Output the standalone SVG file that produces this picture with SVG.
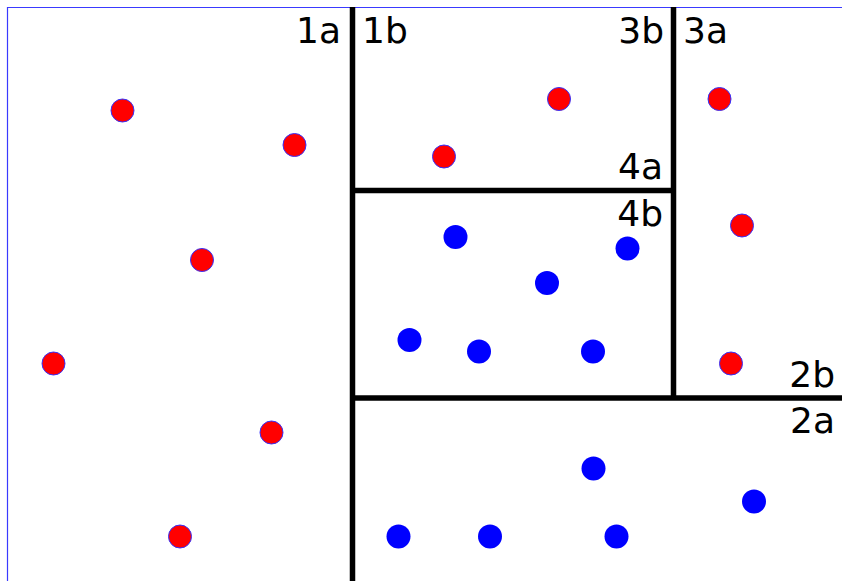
<svg xmlns="http://www.w3.org/2000/svg" width="842" height="581" viewBox="0 0 842 581">
<style>
.lbl{font-family:"DejaVu Sans",sans-serif;font-size:36px;fill:#000}
.r{fill:#ff0000;stroke:#3333ff;stroke-width:1}
.b{fill:#0000ff;stroke:none}
.wall{stroke:#000;stroke-width:5.5;fill:none}
</style>
<rect x="0" y="0" width="842" height="581" fill="#fff"/>
<g id="frame"><path d="M7.5,581 V7.5 H842" fill="none" stroke="#3a3aff" stroke-width="1.2"/></g>
<g id="connectors">
<line class="wall" x1="352.5" y1="7" x2="352.5" y2="581"/>
<line class="wall" x1="352" y1="190.5" x2="673" y2="190.5"/>
<line class="wall" x1="673.5" y1="7" x2="673.5" y2="398"/>
<line class="wall" x1="352" y1="398" x2="842" y2="398"/>
</g>
<g id="labels">
<text class="lbl" x="341" y="43" text-anchor="end">1a</text>
<text class="lbl" x="362" y="43">1b</text>
<text class="lbl" x="664" y="43" text-anchor="end">3b</text>
<text class="lbl" x="683" y="43">3a</text>
<text class="lbl" x="663" y="179" text-anchor="end">4a</text>
<text class="lbl" x="663" y="226" text-anchor="end">4b</text>
<text class="lbl" x="835" y="387" text-anchor="end">2b</text>
<text class="lbl" x="835" y="433" text-anchor="end">2a</text>
</g>
<g id="red">
<circle class="r" cx="122.5" cy="110.5" r="11.5"/>
<circle class="r" cx="294.5" cy="145" r="11.5"/>
<circle class="r" cx="202" cy="260" r="11.5"/>
<circle class="r" cx="53.5" cy="363.5" r="11.5"/>
<circle class="r" cx="271.5" cy="432.5" r="11.5"/>
<circle class="r" cx="180" cy="536.5" r="11.5"/>
<circle class="r" cx="444" cy="156.5" r="11.5"/>
<circle class="r" cx="559" cy="99" r="11.5"/>
<circle class="r" cx="719.5" cy="99" r="11.5"/>
<circle class="r" cx="742" cy="225.5" r="11.5"/>
<circle class="r" cx="731" cy="363.5" r="11.5"/>
</g>
<g id="blue">
<circle class="b" cx="455.5" cy="237" r="12"/>
<circle class="b" cx="627.5" cy="248.5" r="12"/>
<circle class="b" cx="547" cy="283" r="12"/>
<circle class="b" cx="409.5" cy="340" r="12"/>
<circle class="b" cx="479" cy="351.5" r="12"/>
<circle class="b" cx="593" cy="351.5" r="12"/>
<circle class="b" cx="593.5" cy="468.5" r="12"/>
<circle class="b" cx="754" cy="501.5" r="12"/>
<circle class="b" cx="398.5" cy="536.5" r="12"/>
<circle class="b" cx="490" cy="536.5" r="12"/>
<circle class="b" cx="616.5" cy="536.5" r="12"/>
</g>
</svg>
